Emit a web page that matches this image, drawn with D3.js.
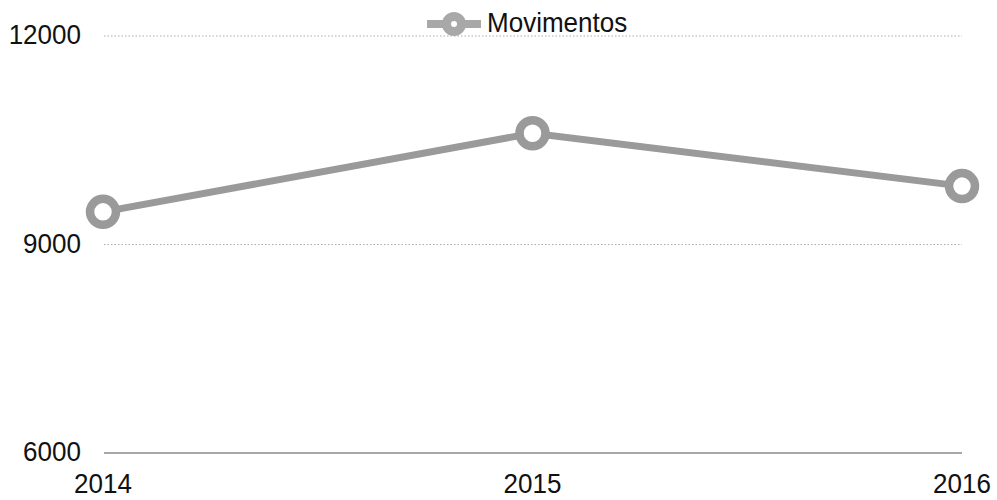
<!DOCTYPE html>
<html><head><meta charset="utf-8">
<script src="https://cdn.jsdelivr.net/npm/d3@7"></script>
<style>body{margin:0;background:#fff}svg{display:block}</style>
</head><body>
<svg id="c" width="997" height="500"></svg>
<script>
const years = ["2014", "2015", "2016"];
const movimentos = [9470, 10600, 9840];
const yTicks = [6000, 9000, 12000];
const seriesName = "Movimentos";

const svg = d3.select("#c");
const x = d3.scalePoint().domain(years).range([103, 962]);
const y = d3.scaleLinear().domain([6000, 12000]).range([453, 36]);
const col = "#9a9a9a";
const font = "Liberation Sans, Arial, sans-serif";
const fs = 28, sx = 0.93;

// grid
svg.selectAll(".grid").data(yTicks).enter().append("line")
  .attr("x1", 104).attr("x2", 962)
  .attr("y1", d => y(d)).attr("y2", d => y(d))
  .attr("stroke", d => d === 6000 ? "#8a8a8a" : "#aaaaaa")
  .attr("stroke-width", d => d === 6000 ? 1.3 : 1)
  .attr("stroke-dasharray", d => d === 6000 ? null : "1.5,2");

// y labels
svg.selectAll(".yl").data(yTicks).enter().append("text")
  .attr("transform", d => `translate(81,${y(d) + 8}) scale(${sx},1)`)
  .attr("text-anchor", "end").attr("font-family", font).attr("font-size", fs)
  .attr("fill", "#111").text(d => d);

// x labels
svg.selectAll(".xl").data(years).enter().append("text")
  .attr("transform", d => `translate(${x(d)},493) scale(${sx},1)`)
  .attr("text-anchor", "middle").attr("font-family", font).attr("font-size", fs)
  .attr("fill", "#111").text(d => d);

// line
const data = years.map((d, i) => ({yr: d, v: movimentos[i]}));
svg.append("path").datum(data)
  .attr("d", d3.line().x(d => x(d.yr)).y(d => y(d.v)))
  .attr("fill", "none").attr("stroke", col).attr("stroke-width", 7);

svg.selectAll(".pt").data(data).enter().append("circle")
  .attr("cx", d => x(d.yr)).attr("cy", d => y(d.v)).attr("r", 13)
  .attr("fill", "#fff").attr("stroke", col).attr("stroke-width", 8.5);

// legend
const lg = svg.append("g");
lg.append("line").attr("x1", 427).attr("x2", 481).attr("y1", 24).attr("y2", 24)
  .attr("stroke", "#a8a8a8").attr("stroke-width", 8);
lg.append("circle").attr("cx", 454).attr("cy", 24).attr("r", 7.5)
  .attr("fill", "#fff").attr("stroke", "#a8a8a8").attr("stroke-width", 9);
lg.append("text").attr("transform", `translate(487,32) scale(${sx},1)`)
  .attr("font-family", font).attr("font-size", fs).attr("fill", "#111").text(seriesName);
</script>
</body></html>
